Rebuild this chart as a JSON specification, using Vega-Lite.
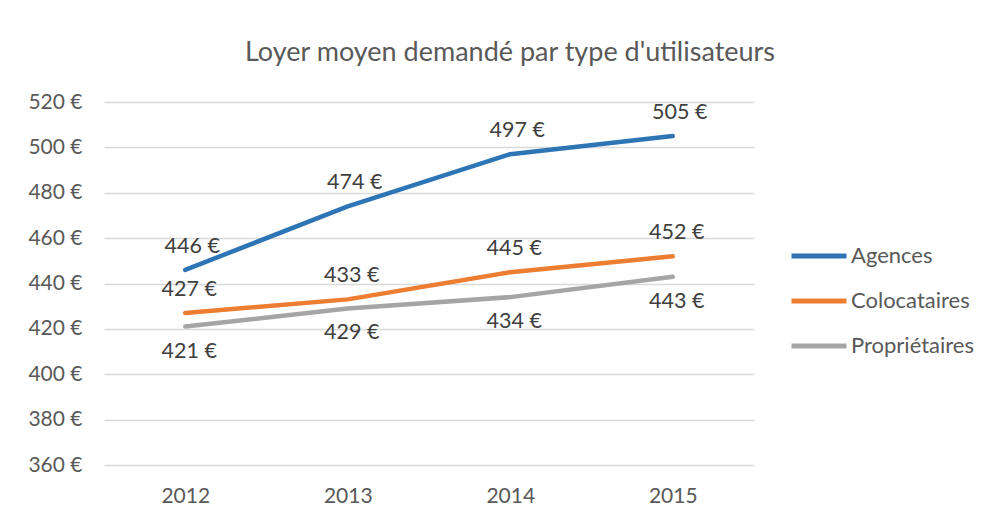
{
  "$schema": "https://vega.github.io/schema/vega-lite/v6.json",
  "autosize": "none",
  "width": 650,
  "height": 363,
  "padding": {"left": 104, "top": 102, "right": 246, "bottom": 56},
  "background": "white",
  "title": {
    "text": "Loyer moyen demandé par type d'utilisateurs",
    "fontSize": 27,
    "font": "Lato",
    "fontWeight": "normal",
    "color": "#595959",
    "anchor": "middle",
    "dx": 81,
    "offset": 24
  },
  "data": {
    "values": [
      {"annee": "2012", "type": "Agences", "loyer": 446},
      {"annee": "2013", "type": "Agences", "loyer": 474},
      {"annee": "2014", "type": "Agences", "loyer": 497},
      {"annee": "2015", "type": "Agences", "loyer": 505},
      {"annee": "2012", "type": "Colocataires", "loyer": 427},
      {"annee": "2013", "type": "Colocataires", "loyer": 433},
      {"annee": "2014", "type": "Colocataires", "loyer": 445},
      {"annee": "2015", "type": "Colocataires", "loyer": 452},
      {"annee": "2012", "type": "Propriétaires", "loyer": 421},
      {"annee": "2013", "type": "Propriétaires", "loyer": 429},
      {"annee": "2014", "type": "Propriétaires", "loyer": 434},
      {"annee": "2015", "type": "Propriétaires", "loyer": 443}
    ]
  },
  "encoding": {
    "x": {
      "field": "annee",
      "type": "ordinal",
      "scale": {"type": "point", "padding": 0.5},
      "axis": {
        "title": null,
        "labelAngle": 0,
        "domain": false,
        "ticks": false,
        "labelPadding": 20,
        "labelFontSize": 21,
        "labelFont": "Lato",
        "labelColor": "#595959"
      }
    },
    "y": {
      "field": "loyer",
      "type": "quantitative",
      "scale": {"domain": [360, 520], "nice": false, "zero": false},
      "axis": {
        "title": null,
        "values": [360, 380, 400, 420, 440, 460, 480, 500, 520],
        "format": "$d",
        "domain": false,
        "ticks": false,
        "labelPadding": 22,
        "labelFontSize": 21,
        "labelFont": "Lato",
        "labelColor": "#595959",
        "grid": true,
        "gridColor": "#D9D9D9",
        "gridWidth": 1.3
      }
    }
  },
  "layer": [
    {
      "mark": {"type": "line", "strokeWidth": 4.5, "strokeCap": "round", "strokeJoin": "round"},
      "encoding": {
        "color": {
          "field": "type",
          "type": "nominal",
          "scale": {
            "domain": ["Agences", "Colocataires", "Propriétaires"],
            "range": ["#2E75B6", "#ED7D31", "#A5A5A5"]
          },
          "legend": {
            "title": null,
            "orient": "none",
            "legendX": 685,
            "legendY": 124,
            "symbolType": "stroke",
            "symbolSize": 3025,
            "symbolStrokeWidth": 5,
            "labelFontSize": 22,
            "labelFont": "Lato",
            "labelColor": "#595959",
            "labelOffset": 2,
            "rowPadding": 4
          }
        }
      }
    },
    {
      "transform": [{"filter": "datum.type === 'Agences'"}],
      "mark": {"type": "text", "dy": -23, "dx": 7, "fontSize": 21.5, "font": "Lato", "color": "#404040"},
      "encoding": {"text": {"field": "loyer", "type": "quantitative", "format": "$d"}}
    },
    {
      "transform": [{"filter": "datum.type === 'Colocataires'"}],
      "mark": {"type": "text", "dy": -23, "dx": 4, "fontSize": 21.5, "font": "Lato", "color": "#404040"},
      "encoding": {"text": {"field": "loyer", "type": "quantitative", "format": "$d"}}
    },
    {
      "transform": [{"filter": "datum.type === 'Propriétaires'"}],
      "mark": {"type": "text", "dy": 25, "dx": 4, "fontSize": 21.5, "font": "Lato", "color": "#404040"},
      "encoding": {"text": {"field": "loyer", "type": "quantitative", "format": "$d"}}
    }
  ],
  "config": {
    "view": {"stroke": null},
    "locale": {
      "number": {
        "decimal": ",",
        "thousands": " ",
        "grouping": [3],
        "currency": ["", " €"]
      }
    }
  }
}
